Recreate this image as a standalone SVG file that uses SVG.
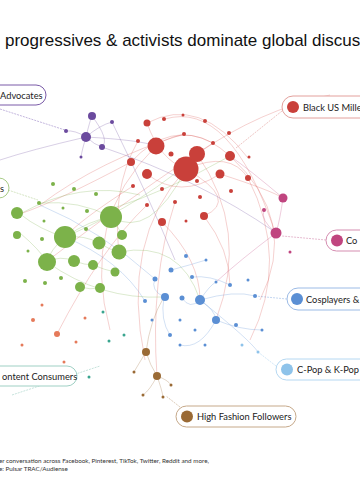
<svg xmlns="http://www.w3.org/2000/svg" width="360" height="500" viewBox="0 0 360 500">
<style>
.t{font-family:"Liberation Sans",Arial,sans-serif;fill:#111}
.lb{font-family:"Lato","Liberation Sans",sans-serif;font-size:9.3px;fill:#222}
.ft{font-family:"Lato","Liberation Sans",sans-serif;font-size:6.3px;fill:#333}
.pill{fill:#fff;stroke-width:1}
.e{fill:none;stroke-width:0.6;opacity:0.45}
.r{fill:#c9403a}.p{fill:#6b4a9e}.g{fill:#7cb24a}.m{fill:#c0457f}.b{fill:#5b8fd4}.lbl{fill:#8ec3ea}.br{fill:#9a6a35}.o{fill:#e57a5a}.tl{fill:#3aa58f}
.er{stroke:#d9534f}.ep{stroke:#6b4a9e}.eg{stroke:#7cb24a}.eb{stroke:#5b8fd4}.em{stroke:#c0457f}.ebr{stroke:#9a6a35}
.ln{fill:none;stroke-width:0.6;stroke-dasharray:2 1}
</style>
<rect width="360" height="500" fill="#fff"/>
<text class="t" x="5" y="46" font-size="17">progressives &amp; activists dominate global discus</text>

<g id="connectors">
<path class="ln" stroke="#9a85c6" d="M0 109 L68 131"/>
<path class="ln" stroke="#e3a09c" d="M282 111 L236 148"/>
<path class="ln" stroke="#b8d49c" d="M8 190 L38 200"/>
<path class="ln" stroke="#d58db0" d="M326 240 L282 236"/>
<path class="ln" stroke="#9cbbe6" d="M287 299 L255 296"/>
<path class="ln" stroke="#b5d8f2" d="M276 366 L258 352"/>
<path class="ln" stroke="#9fd0c4" d="M12 395 L100 366"/>
<path class="ln" stroke="#c6a98a" d="M180 407 L166 396"/>
<path class="e er" d="M147 123 Q200 95 248 158"/>
<path class="e er" d="M147 123 Q160 160 186 169"/>
<path class="e er" d="M156 146 Q190 120 230 156"/>
<path class="e er" d="M131 162 Q170 120 213 143"/>
<path class="e er" d="M186 169 Q230 150 248 178"/>
<path class="e er" d="M147 174 Q180 200 220 174"/>
<path class="e er" d="M138 141 Q110 190 120 260"/>
<path class="e er" d="M131 162 Q60 200 20 214"/>
<path class="e er" d="M156 146 Q80 220 110 330"/>
<path class="e er" d="M186 169 Q120 240 145 360"/>
<path class="e er" d="M197 154 Q250 230 216 320"/>
<path class="e er" d="M230 156 Q300 220 260 300"/>
<path class="e er" d="M220 174 Q270 190 283 198"/>
<path class="e er" d="M197 154 Q260 110 330 95"/>
<path class="e er" d="M165 119 Q230 100 275 232"/>
<path class="e er" d="M184 134 Q100 160 40 205"/>
<path class="e er" d="M162 222 Q200 260 200 300"/>
<path class="e er" d="M204 216 Q230 250 230 285"/>
<path class="e er" d="M147 205 Q100 250 57 334"/>
<path class="e er" d="M133 186 Q80 220 65 237"/>
<path class="e er" d="M175 202 Q150 280 157 376"/>
<path class="e er" d="M248 178 Q290 260 250 340"/>
<path class="e er" d="M213 143 Q140 190 46 262"/>
<path class="e er" d="M186 169 Q240 200 204 216"/>
<path class="e ep" d="M86 137 Q90 120 92 116"/>
<path class="e ep" d="M86 137 Q100 125 112 122"/>
<path class="e ep" d="M86 137 Q75 130 66 131"/>
<path class="e ep" d="M86 137 Q95 145 102 147"/>
<path class="e ep" d="M86 137 Q82 150 81 157"/>
<path class="e ep" d="M92 116 Q110 140 102 147"/>
<path class="e ep" d="M86 137 Q140 140 156 146"/>
<path class="e ep" d="M112 122 Q150 200 175 260"/>
<path class="e ep" d="M86 137 Q30 150 0 160"/>
<path class="e ep" d="M102 147 Q200 180 275 232"/>
<path class="e eg" d="M65 237 Q90 220 111 217"/>
<path class="e eg" d="M65 237 Q50 250 47 262"/>
<path class="e eg" d="M65 237 Q85 235 99 243"/>
<path class="e eg" d="M111 217 Q120 230 122 235"/>
<path class="e eg" d="M99 243 Q110 250 119 252"/>
<path class="e eg" d="M47 262 Q60 255 74 261"/>
<path class="e eg" d="M74 261 Q85 265 93 265"/>
<path class="e eg" d="M93 265 Q105 270 115 272"/>
<path class="e eg" d="M80 287 Q90 290 100 288"/>
<path class="e eg" d="M20 214 Q40 230 65 237"/>
<path class="e eg" d="M20 233 Q40 250 47 262"/>
<path class="e eg" d="M39 203 Q80 200 111 217"/>
<path class="e eg" d="M111 209 Q170 190 230 156"/>
<path class="e eg" d="M65 237 Q150 200 197 154"/>
<path class="e eg" d="M119 252 Q180 240 200 300"/>
<path class="e eg" d="M47 262 Q100 300 164 297"/>
<path class="e eg" d="M111 217 Q150 240 186 169"/>
<path class="e eg" d="M20 214 Q80 180 140 195"/>
<path class="e eb" d="M200 300 Q210 285 216 282"/>
<path class="e eb" d="M200 300 Q190 310 182 298"/>
<path class="e eb" d="M164 297 Q150 290 155 279"/>
<path class="e eb" d="M200 300 Q215 310 216 320"/>
<path class="e eb" d="M171 270 Q190 265 206 260"/>
<path class="e eb" d="M192 277 Q210 275 230 285"/>
<path class="e eb" d="M200 300 Q235 290 255 296"/>
<path class="e eb" d="M216 320 Q240 330 262 330"/>
<path class="e eb" d="M164 297 Q160 320 170 335"/>
<path class="e eb" d="M145 301 Q120 260 65 237"/>
<path class="e eb" d="M216 320 Q200 350 180 345"/>
<path class="e eb" d="M200 300 Q250 340 258 352"/>
<path class="e eb" d="M155 279 Q100 230 40 205"/>
<path class="e em" d="M283 198 Q280 220 276 233"/>
<path class="e em" d="M276 233 Q260 220 264 210"/>
<path class="e em" d="M283 198 Q250 170 230 156"/>
<path class="e em" d="M276 233 Q240 260 216 282"/>
<path class="e ebr" d="M146 352 Q150 365 157 376"/>
<path class="e ebr" d="M157 376 Q150 390 143 395"/>
<path class="e ebr" d="M157 376 Q162 390 163 397"/>
<path class="e ebr" d="M157 376 Q168 380 171 385"/>
<path class="e ebr" d="M146 352 Q138 365 134 372"/>
<path class="e ebr" d="M146 352 Q150 320 164 297"/>
</g>

<g id="nodes">
<g id="n-red">
<circle class="r" cx="186" cy="169" r="12.5"/>
<circle class="r" cx="156" cy="146" r="8.5"/>
<circle class="r" cx="197" cy="154" r="8"/>
<circle class="r" cx="230" cy="156" r="5"/>
<circle class="r" cx="147" cy="174" r="5"/>
<circle class="r" cx="220" cy="174" r="4.5"/>
<circle class="r" cx="131" cy="162" r="4"/>
<circle class="r" cx="147" cy="123" r="3.5"/>
<circle class="r" cx="248" cy="178" r="3"/>
<circle class="r" cx="162" cy="222" r="4"/>
<circle class="r" cx="204" cy="216" r="4"/>
<circle class="r" cx="164" cy="119" r="2"/>
<circle class="r" cx="183" cy="115" r="1.5"/>
<circle class="r" cx="205" cy="121" r="2"/>
<circle class="r" cx="229" cy="133" r="2"/>
<circle class="r" cx="184" cy="134" r="2"/>
<circle class="r" cx="213" cy="143" r="2"/>
<circle class="r" cx="138" cy="141" r="2"/>
<circle class="r" cx="171" cy="154" r="2.5"/>
<circle class="r" cx="249" cy="157" r="1.5"/>
<circle class="r" cx="197" cy="181" r="2"/>
<circle class="r" cx="133" cy="186" r="2"/>
<circle class="r" cx="162" cy="189" r="2"/>
<circle class="r" cx="231" cy="191" r="2"/>
<circle class="r" cx="175" cy="202" r="2"/>
<circle class="r" cx="200" cy="197" r="2"/>
<circle class="r" cx="147" cy="205" r="2"/>
<circle class="r" cx="186" cy="221" r="1.5"/>
</g>
<g id="n-purple">
<circle class="p" cx="86" cy="137" r="5"/>
<circle class="p" cx="92" cy="116" r="4"/>
<circle class="p" cx="102" cy="147" r="3"/>
<circle class="p" cx="112" cy="122" r="2"/>
<circle class="p" cx="66" cy="131" r="2"/>
<circle class="p" cx="81" cy="157" r="1.5"/>
</g>
<g id="n-green">
<circle class="g" cx="111" cy="217" r="11"/>
<circle class="g" cx="65" cy="237" r="11"/>
<circle class="g" cx="47" cy="262" r="9"/>
<circle class="g" cx="119" cy="252" r="7.5"/>
<circle class="g" cx="99" cy="243" r="6.5"/>
<circle class="g" cx="74" cy="261" r="6"/>
<circle class="g" cx="17" cy="213" r="6"/>
<circle class="g" cx="122" cy="235" r="5"/>
<circle class="g" cx="93" cy="265" r="5"/>
<circle class="g" cx="80" cy="287" r="5"/>
<circle class="g" cx="100" cy="288" r="5"/>
<circle class="g" cx="115" cy="272" r="4.5"/>
<circle class="g" cx="17" cy="235" r="4"/>
<circle class="g" cx="74" cy="189" r="2"/>
<circle class="g" cx="53" cy="184" r="2"/>
<circle class="g" cx="96" cy="194" r="2"/>
<circle class="g" cx="39" cy="203" r="2"/>
<circle class="g" cx="63" cy="208" r="1.5"/>
<circle class="g" cx="87" cy="211" r="2"/>
<circle class="g" cx="44" cy="221" r="1.5"/>
<circle class="g" cx="86" cy="229" r="2"/>
<circle class="g" cx="42" cy="239" r="2"/>
<circle class="g" cx="28" cy="251" r="1.5"/>
<circle class="g" cx="61" cy="278" r="2"/>
<circle class="g" cx="25" cy="281" r="2"/>
<circle class="g" cx="45" cy="283" r="2"/>
</g>
<g id="n-magenta">
<circle class="m" cx="283" cy="198" r="4.5"/>
<circle class="m" cx="276" cy="233" r="5.5"/>
<circle class="m" cx="264" cy="210" r="2"/>
<circle class="m" cx="290" cy="252" r="1.5"/>
</g>
<g id="n-blue">
<circle class="b" cx="200" cy="300" r="5"/>
<circle class="b" cx="165" cy="297" r="4"/>
<circle class="b" cx="216" cy="320" r="4"/>
<circle class="b" cx="182" cy="298" r="2.5"/>
<circle class="b" cx="171" cy="270" r="2.5"/>
<circle class="b" cx="155" cy="279" r="2.5"/>
<circle class="b" cx="186" cy="256" r="2"/>
<circle class="b" cx="206" cy="260" r="1.5"/>
<circle class="b" cx="192" cy="277" r="2"/>
<circle class="b" cx="216" cy="282" r="1.5"/>
<circle class="b" cx="145" cy="301" r="2"/>
<circle class="b" cx="230" cy="285" r="2"/>
<circle class="b" cx="248" cy="280" r="1.5"/>
<circle class="b" cx="255" cy="296" r="2"/>
<circle class="b" cx="236" cy="325" r="2"/>
<circle class="b" cx="262" cy="330" r="1.5"/>
<circle class="b" cx="195" cy="330" r="1.5"/>
<circle class="b" cx="180" cy="320" r="1.5"/>
<circle class="b" cx="152" cy="320" r="1.5"/>
<circle class="b" cx="170" cy="335" r="2"/>
<circle class="b" cx="180" cy="345" r="1.5"/>
<circle class="b" cx="205" cy="345" r="1.5"/>
<circle class="lbl" cx="242" cy="345" r="1.5"/>
<circle class="lbl" cx="258" cy="352" r="1.5"/>
</g>
<g id="n-brown">
<circle class="br" cx="146" cy="352" r="4"/>
<circle class="br" cx="157" cy="376" r="4"/>
<circle class="br" cx="143" cy="395" r="1.5"/>
<circle class="br" cx="163" cy="397" r="1.5"/>
<circle class="br" cx="171" cy="385" r="1.5"/>
<circle class="br" cx="134" cy="372" r="1.5"/>
</g>
<g id="n-orange">
<circle class="o" cx="57" cy="334" r="3"/>
<circle class="o" cx="33" cy="320" r="2"/>
<circle class="o" cx="42" cy="305" r="1.5"/>
<circle class="o" cx="85" cy="318" r="1.5"/>
<circle class="o" cx="22" cy="345" r="1.5"/>
<circle class="o" cx="64" cy="362" r="1.5"/>
<circle class="o" cx="76" cy="342" r="1.5"/>
<circle class="tl" cx="89" cy="377" r="1.5"/>
<circle class="tl" cx="103" cy="312" r="1.5"/>
<circle class="tl" cx="109" cy="341" r="1.5"/>
<circle class="tl" cx="124" cy="335" r="1.5"/>
</g>

<g id="lab-advocates">
<rect class="pill" x="-20" y="85" width="66" height="20" rx="10" stroke="#7a5ba8"/>
<text class="lb" x="0" y="98.5">Advocates</text>
</g>
<g id="lab-black">
<rect class="pill" x="282" y="96" width="100" height="22" rx="11" stroke="#e3a09c"/>
<circle class="r" cx="293" cy="107" r="6"/>
<text class="lb" x="303" y="110.5">Black US Mille</text>
</g>
<g id="lab-green">
<rect class="pill" x="-20" y="178" width="29" height="20" rx="10" stroke="#a8cc86"/>
<text class="lb" x="0" y="191.5">s</text>
</g>
<g id="lab-magenta">
<rect class="pill" x="326" y="230" width="80" height="21" rx="10.5" stroke="#d58db0"/>
<circle class="m" cx="337" cy="240.5" r="6"/>
<text class="lb" x="346" y="244">Co</text>
</g>
<g id="lab-cosplay">
<rect class="pill" x="287" y="288" width="100" height="22" rx="11" stroke="#9cbbe6"/>
<circle class="b" cx="297" cy="299" r="6"/>
<text class="lb" x="306" y="302.5">Cosplayers &amp;</text>
</g>
<g id="lab-cpop">
<rect class="pill" x="276" y="359" width="100" height="21" rx="10.5" stroke="#b5d8f2"/>
<circle class="lbl" cx="287" cy="369.5" r="6"/>
<text class="lb" x="297" y="373">C-Pop &amp; K-Pop</text>
</g>
<g id="lab-content">
<rect class="pill" x="-20" y="366" width="97" height="20" rx="10" stroke="#9fd0c4"/>
<text class="lb" x="2" y="379.5">ontent Consumers</text>
</g>
<g id="lab-fashion">
<rect class="pill" x="176" y="406" width="120" height="21" rx="10.5" stroke="#c6a98a"/>
<circle class="br" cx="187" cy="416.5" r="6"/>
<text class="lb" x="197" y="420">High Fashion Followers</text>
</g>
</g>

<text class="ft" x="-1" y="463">er conversation across Facebook, Pinterest, TikTok, Twitter, Reddit and more,</text>
<text class="ft" x="-1" y="471">e: Pulsar TRAC/Audiense</text>
</svg>
